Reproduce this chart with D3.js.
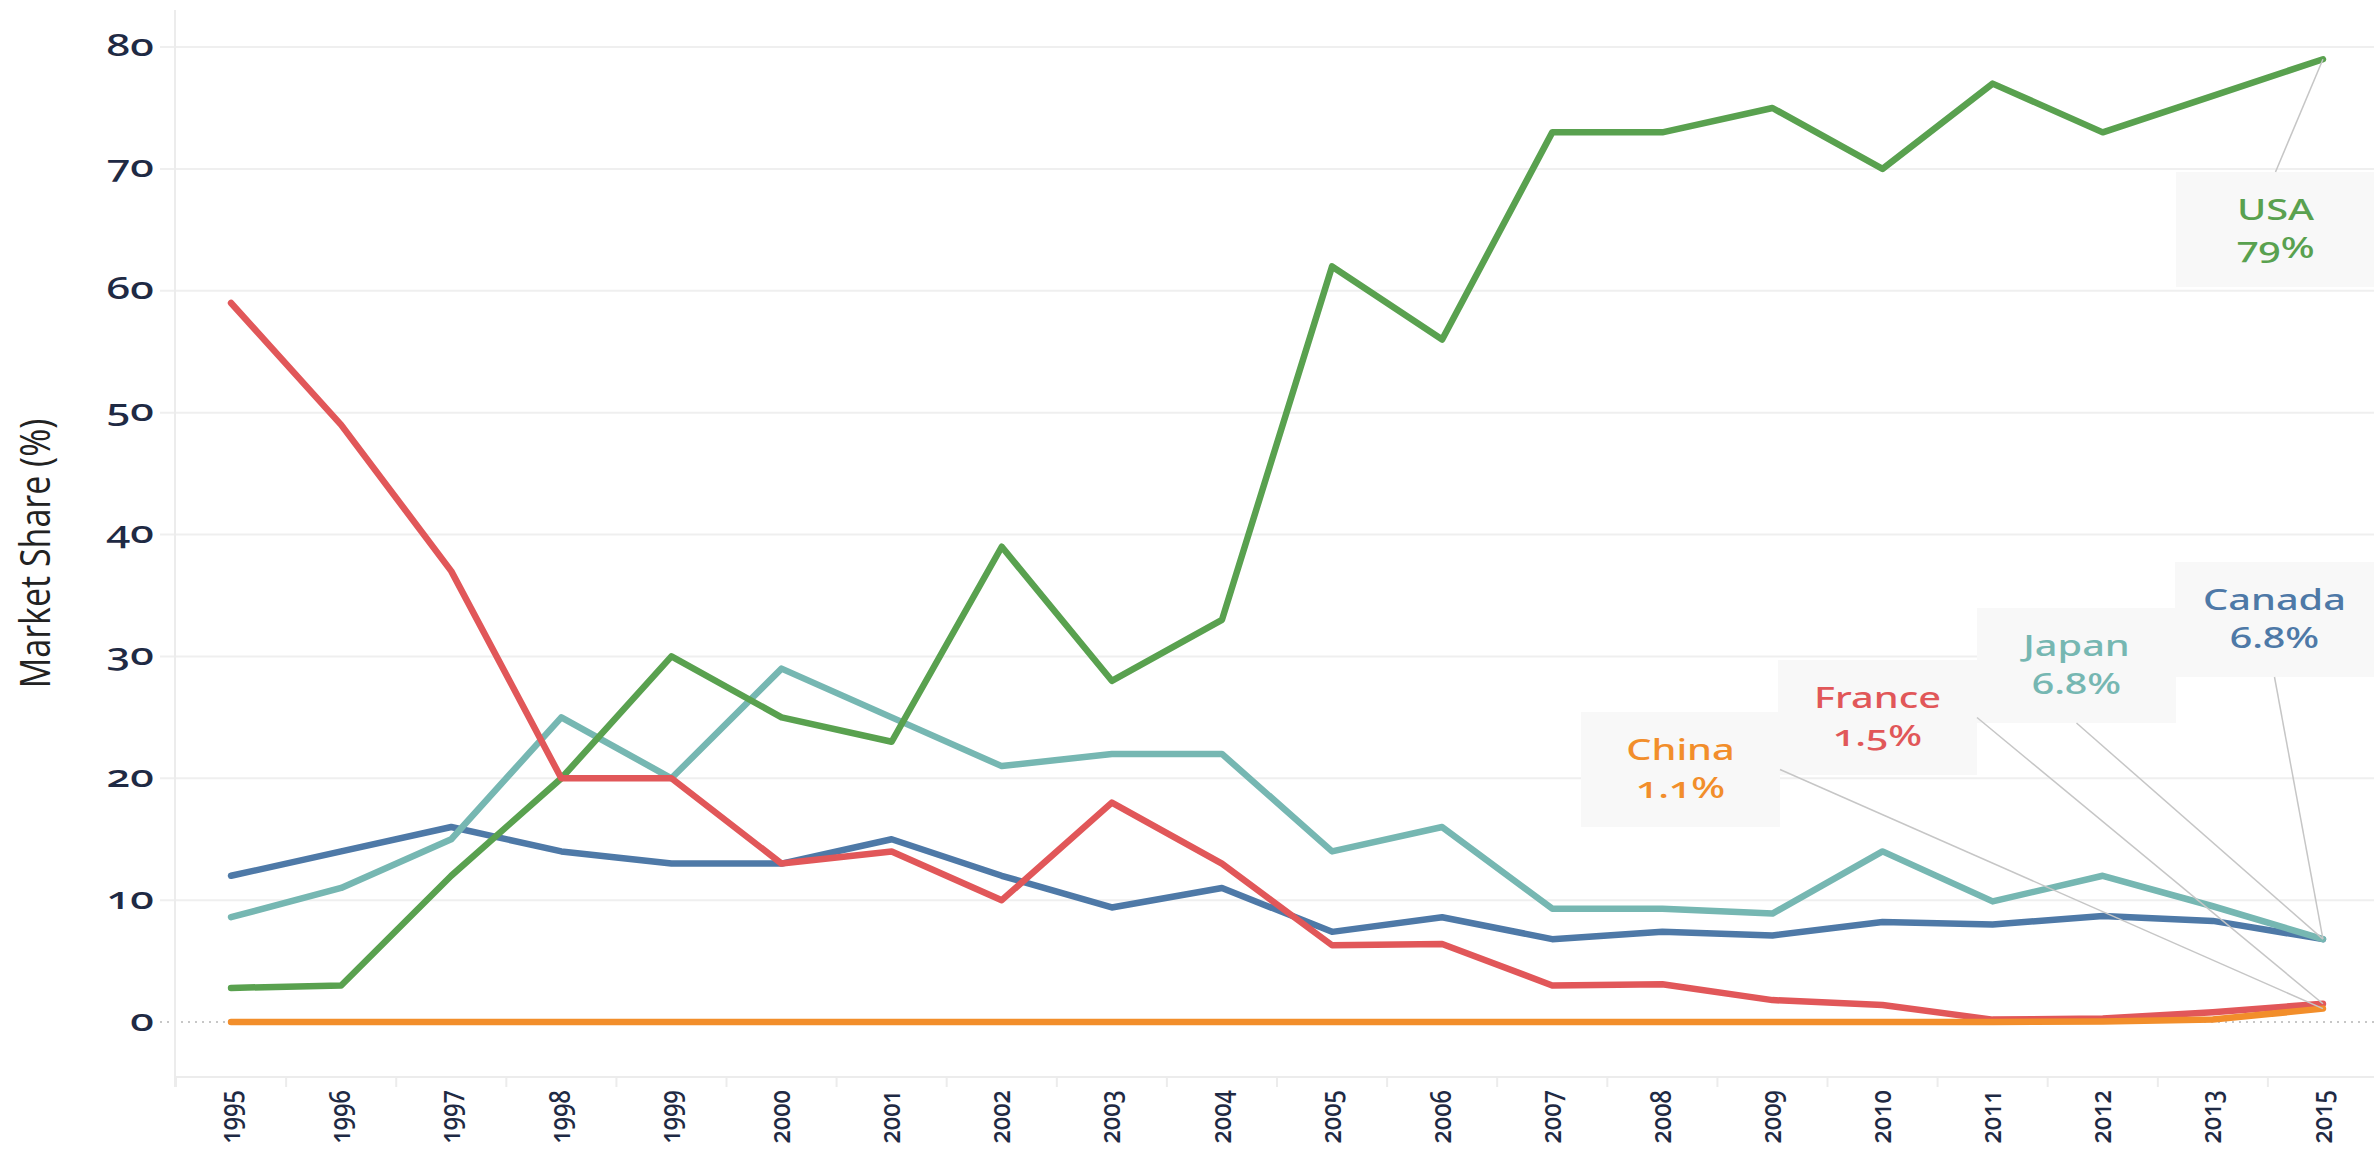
<!DOCTYPE html>
<html>
<head>
<meta charset="utf-8">
<script src="https://cdn.jsdelivr.net/npm/d3@7"></script>
<style>
  body { margin: 0; background: #fff; }
  text { font-family: "Noto Sans", "DejaVu Sans", sans-serif; font-variant-numeric: oldstyle-nums; font-feature-settings: "onum" 1; }
</style>
</head>
<body>
<div id="chart"></div>
<script>
// categories (2014 is not in the data)
const years = ["1995","1996","1997","1998","1999","2000","2001","2002","2003","2004",
               "2005","2006","2007","2008","2009","2010","2011","2012","2013","2015"];

const usa    = [2.8, 3, 12, 20, 30, 25, 23, 39, 28, 33, 62, 56, 73, 73, 75, 70, 77, 73, 76, 79];
const france = [59, 49, 37, 20, 20, 13, 14, 10, 18, 13, 6.3, 6.4, 3.0, 3.1, 1.8, 1.4, 0.2, 0.3, 0.8, 1.5];
const japan  = [8.6, 11, 15, 25, 20, 29, 25, 21, 22, 22, 14, 16, 9.3, 9.3, 8.9, 14, 9.9, 12, 9.5, 6.8];
const canada = [12, 14, 16, 14, 13, 13, 15, 12, 9.4, 11, 7.4, 8.6, 6.8, 7.4, 7.1, 8.2, 8.0, 8.7, 8.3, 6.8];
const china  = [0, 0, 0, 0, 0, 0, 0, 0, 0, 0, 0, 0, 0, 0, 0, 0, 0, 0.05, 0.2, 1.1];

const countries = ["Canada", "Japan", "USA", "France", "China"];
const seriesValues = [canada, japan, usa, france, china];
const colors = ["#4e79a7", "#76b7b2", "#59a14f", "#e15759", "#f28e2b"];

const yTicks = [0, 10, 20, 30, 40, 50, 60, 70, 80];

// annotation boxes: top-left corner in pixels and where the leader line leaves the box
const notes = [
    {name: "USA",    x: 2176, y: 172, anchor: "top"},
    {name: "Canada", x: 2175, y: 562, anchor: "bottom"},
    {name: "Japan",  x: 1977, y: 608, anchor: "bottom"},
    {name: "France", x: 1778, y: 660, anchor: "right"},
    {name: "China",  x: 1581, y: 712, anchor: "right"}
];

function init() {
    const W = 2374, H = 1153;
    const left = 176, top = 10, bottom = 1077, right = 2378;
    const SX = 1.42;   // the source font is much wider than anything installed

    const svg = d3.select('#chart')
        .append('svg')
        .attr('width', W)
        .attr('height', H);

    const xScale = d3.scaleBand()
        .domain(years)
        .range([left, right]);
    const cx = d => xScale(d) + xScale.bandwidth() / 2;

    const yScale = d3.scaleLinear()
        .domain([-4.51, 83.04])
        .range([bottom, top]);

    // gridlines
    svg.selectAll('.grid')
        .data(yTicks.filter(d => d != 0))
        .join('line')
        .attr('class', 'grid')
        .attr('x1', 160).attr('x2', W)
        .attr('y1', d => yScale(d)).attr('y2', d => yScale(d))
        .style('stroke', '#efefef')
        .style('stroke-width', 2);

    // zero line is dotted
    svg.append('line')
        .attr('x1', 160).attr('x2', W)
        .attr('y1', yScale(0)).attr('y2', yScale(0))
        .style('stroke', '#b5b5b5')
        .style('stroke-width', 1.5)
        .style('stroke-dasharray', '2,5');

    // axis lines
    svg.append('line')
        .attr('x1', left - 1).attr('x2', left - 1)
        .attr('y1', top).attr('y2', bottom + 10)
        .style('stroke', '#ececec').style('stroke-width', 2);
    svg.append('line')
        .attr('x1', left - 1).attr('x2', W)
        .attr('y1', bottom).attr('y2', bottom)
        .style('stroke', '#ececec').style('stroke-width', 2);
    svg.selectAll('.xsep')
        .data(years)
        .join('line')
        .attr('class', 'xsep')
        .attr('x1', d => xScale(d)).attr('x2', d => xScale(d))
        .attr('y1', bottom).attr('y2', bottom + 10)
        .style('stroke', '#ececec').style('stroke-width', 2);

    // y axis labels
    const yAxis = svg.append('g')
        .attr('transform', `translate(${left - 22},0)`)
        .call(d3.axisLeft(yScale).tickValues(yTicks).tickSize(0).tickPadding(0));
    yAxis.select('.domain').remove();
    yAxis.selectAll('text')
        .attr('x', null).attr('dy', null)
        .attr('y', 8)
        .attr('transform', `scale(${SX},1)`)
        .attr('text-anchor', 'end')
        .style('font-size', '30px')
        .style('font-weight', 500)
        .style('fill', '#1f2a44');

    // x axis labels, rotated
    const xAxis = svg.append('g')
        .attr('transform', `translate(0,${bottom})`)
        .call(d3.axisBottom(xScale).tickSize(0));
    xAxis.select('.domain').remove();
    xAxis.selectAll('text')
        .attr('y', null).attr('dy', null)
        .attr('transform', 'translate(0,13) scale(1.2,1) rotate(-90)')
        .attr('dy', '0.3em')
        .attr('text-anchor', 'end')
        .style('font-size', '24px')
        .style('font-weight', 500)
        .style('fill', '#1f2a44');

    // axis title
    svg.append('text')
        .attr('transform', `translate(50,${(top + bottom) / 2 + 10}) scale(1.25,1) rotate(-90)`)
        .attr('text-anchor', 'middle')
        .style('font-size', '34px')
        .style('font-family', '"Open Sans", sans-serif')
        .style('font-weight', 400)
        .style('fill', '#222')
        .text('Market Share (%)');

    // lines
    const line = d3.line()
        .x(d => cx(d.year))
        .y(d => yScale(d.value));

    seriesValues.forEach((vals, i) => {
        const pts = years.map((yr, j) => ({year: yr, value: vals[j]}));
        svg.append('path')
            .datum(pts)
            .attr('d', line)
            .style('fill', 'none')
            .style('stroke', colors[i])
            .style('stroke-width', 6.5)
            .style('stroke-linejoin', 'round')
            .style('stroke-linecap', 'round');
    });

    // annotations
    const boxW = 199, boxH = 115;
    const lastYear = years[years.length - 1];
    const fmt = v => v >= 10 ? d3.format('.0f')(v) + '%' : d3.format('.1f')(v) + '%';

    notes.forEach(n => {
        const i = countries.indexOf(n.name);
        const vals = seriesValues[i];
        const v = vals[vals.length - 1];
        const px = cx(lastYear), py = yScale(v);

        let ax = n.x + boxW / 2, ay = n.y + boxH / 2;
        if (n.anchor == "top") ay = n.y;
        if (n.anchor == "bottom") ay = n.y + boxH;
        if (n.anchor == "right") ax = n.x + boxW;

        svg.append('rect')
            .attr('x', n.x).attr('y', n.y)
            .attr('width', boxW).attr('height', boxH)
            .style('fill', '#f8f8f8');

        svg.append('line')
            .attr('x1', ax).attr('y1', ay)
            .attr('x2', px).attr('y2', py)
            .style('stroke', '#c6c6c6')
            .style('stroke-width', 1.5);

        const t = svg.append('g')
            .attr('transform', `translate(${n.x + boxW / 2},${n.y}) scale(${SX},1)`);
        t.append('text')
            .attr('y', 48)
            .attr('text-anchor', 'middle')
            .style('font-size', '28px')
            .style('font-weight', 500)
            .style('fill', colors[i])
            .text(n.name);
        t.append('text')
            .attr('y', 86)
            .attr('text-anchor', 'middle')
            .style('font-size', '28px')
            .style('font-weight', 500)
            .style('fill', colors[i])
            .text(fmt(v));
    });
}

window.addEventListener('load', init);
</script>
</body>
</html>
